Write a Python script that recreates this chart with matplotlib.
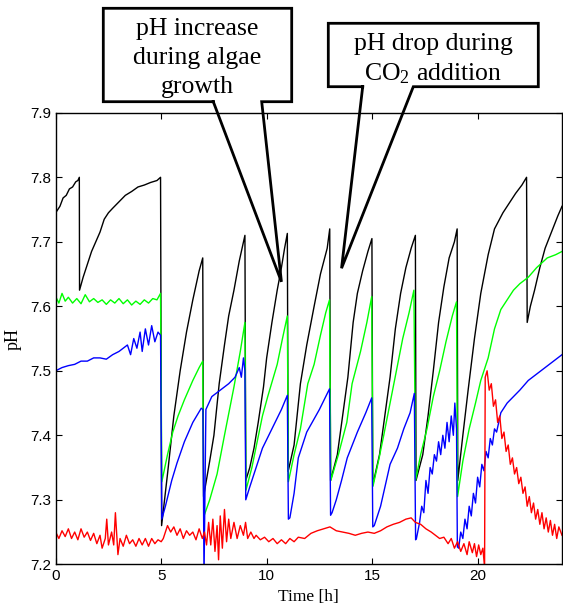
import matplotlib
matplotlib.use("Agg")
import matplotlib.pyplot as plt
from matplotlib.patches import Polygon, Rectangle
from matplotlib.lines import Line2D

plt.rcParams['mathtext.fontset'] = 'custom'
plt.rcParams['mathtext.rm'] = 'Liberation Serif'
plt.rcParams['mathtext.it'] = 'Liberation Serif:italic'

# ---------------- data (time [h], pH) ----------------
black_t = [0, 0.2, 0.35, 0.5, 0.65, 0.8, 0.95, 1.05, 1.12,
           1.13, 1.3, 1.5, 1.7, 1.9, 2.1, 2.3, 2.5, 2.7, 3.0, 3.3, 3.6, 3.9, 4.2, 4.5, 4.8, 4.97,
           5.02, 5.3, 5.6, 5.9, 6.2, 6.5, 6.8, 6.97,
           7.01, 7.3, 7.5, 7.75, 8.0, 8.2, 8.45, 8.7, 8.97,
           9.01, 9.2, 9.4, 9.6, 9.85, 10.0, 10.25, 10.5, 10.7, 10.85, 10.98,
           11.02, 11.3, 11.6, 11.9, 12.25, 12.55, 12.87, 12.99,
           13.03, 13.35, 13.6, 13.85, 14.1, 14.3, 14.55, 14.8, 14.99,
           15.03, 15.35, 15.6, 15.85, 16.1, 16.35, 16.6, 16.85, 17.05,
           17.08, 17.4, 17.65, 17.9, 18.15, 18.4, 18.65, 18.9, 19.03,
           19.06, 19.3, 19.55, 19.85, 20.15, 20.5, 20.8, 21.2, 21.5, 21.8, 22.1, 22.32,
           22.35, 22.5, 22.7, 22.95, 23.2, 23.5, 23.8, 24.0]
black_ph = [7.745, 7.755, 7.768, 7.772, 7.782, 7.785, 7.793, 7.795, 7.800,
            7.625, 7.645, 7.665, 7.685, 7.700, 7.715, 7.735, 7.745, 7.752, 7.762, 7.772, 7.778, 7.785, 7.788, 7.792, 7.795, 7.800,
            7.260, 7.340, 7.430, 7.500, 7.560, 7.610, 7.655, 7.675,
            7.305, 7.360, 7.400, 7.480, 7.540, 7.585, 7.625, 7.670, 7.710,
            7.330, 7.350, 7.380, 7.420, 7.475, 7.520, 7.575, 7.625, 7.660, 7.690, 7.713,
            7.344, 7.385, 7.480, 7.540, 7.600, 7.650, 7.690, 7.720,
            7.330, 7.370, 7.430, 7.490, 7.575, 7.620, 7.655, 7.685, 7.705,
            7.323, 7.370, 7.430, 7.490, 7.565, 7.620, 7.660, 7.690, 7.710,
            7.330, 7.370, 7.430, 7.500, 7.575, 7.630, 7.675, 7.700, 7.720,
            7.330, 7.400, 7.470, 7.550, 7.620, 7.680, 7.720, 7.745, 7.760, 7.775, 7.788, 7.800,
            7.575, 7.600, 7.625, 7.660, 7.690, 7.715, 7.740, 7.755]

green_t = [0, 0.15, 0.3, 0.45, 0.6, 0.8, 1.0, 1.2, 1.4, 1.6, 1.8, 2.0, 2.2, 2.4, 2.6, 2.8,
           3.0, 3.2, 3.4, 3.6, 3.8, 4.0, 4.2, 4.4, 4.6, 4.8, 4.97,
           5.03, 5.3, 5.55, 5.8, 6.1, 6.5, 6.8, 6.97,
           7.02, 7.3, 7.65, 8.0, 8.45, 8.75, 8.97,
           9.02, 9.3, 9.55, 9.8, 10.05, 10.5, 10.75, 10.98,
           11.03, 11.3, 11.6, 11.95, 12.25, 12.55, 12.8, 12.98,
           13.04, 13.4, 13.8, 14.05, 14.45, 14.75, 14.98,
           15.04, 15.3, 15.55, 15.85, 16.15, 16.45, 16.75, 16.98,
           17.06, 17.3, 17.6, 17.9, 18.2, 18.5, 18.8, 19.0,
           19.05, 19.3, 19.6, 19.9, 20.15, 20.5, 20.8, 21.1, 21.4, 21.7, 22.0, 22.4, 22.8, 23.3, 23.7, 24.0]
green_ph = [7.615, 7.605, 7.620, 7.608, 7.614, 7.605, 7.612, 7.604, 7.618, 7.607, 7.612, 7.606, 7.610, 7.603, 7.610, 7.605,
            7.612, 7.604, 7.610, 7.602, 7.608, 7.603, 7.610, 7.605, 7.612, 7.610, 7.620,
            7.328, 7.370, 7.405, 7.430, 7.455, 7.485, 7.505, 7.515,
            7.274, 7.300, 7.340, 7.400, 7.475, 7.530, 7.575,
            7.315, 7.350, 7.390, 7.430, 7.460, 7.510, 7.550, 7.585,
            7.328, 7.370, 7.410, 7.480, 7.510, 7.555, 7.590, 7.610,
            7.330, 7.370, 7.420, 7.480, 7.530, 7.575, 7.615,
            7.321, 7.360, 7.400, 7.450, 7.500, 7.550, 7.590, 7.625,
            7.330, 7.370, 7.410, 7.460, 7.500, 7.545, 7.585, 7.607,
            7.305, 7.360, 7.410, 7.450, 7.485, 7.520, 7.565, 7.595, 7.610, 7.625, 7.635, 7.645, 7.660, 7.675, 7.680, 7.685]

blue_t = [0, 0.3, 0.6, 0.9, 1.2, 1.5, 1.8, 2.1, 2.4, 2.7, 3.0, 3.2, 3.4, 3.55, 3.7, 3.85,
          4.0, 4.1, 4.25, 4.4, 4.55, 4.7, 4.85, 4.97,
          5.03, 5.2, 5.5, 5.75, 6.1, 6.5, 6.9, 6.98,
          7.03, 7.12, 7.4, 7.8, 8.2, 8.5, 8.7, 8.8, 8.9, 8.97,
          9.01, 9.2, 9.5, 9.8, 10.1, 10.4, 10.7, 10.98,
          11.03, 11.1, 11.3, 11.5, 11.9, 12.5, 12.98,
          13.03, 13.1, 13.3, 13.55, 13.82, 14.3, 14.7, 14.98,
          15.03, 15.1, 15.4, 15.85, 16.2, 16.5, 16.8, 17.0,
          17.06, 17.1, 17.25, 17.35, 17.45, 17.55, 17.65, 17.75, 17.85, 17.95, 18.05, 18.15,
          18.25, 18.35, 18.45, 18.55, 18.65, 18.75, 18.85, 18.92, 19.0,
          19.04, 19.1, 19.2, 19.3, 19.4, 19.5, 19.6, 19.7, 19.8, 19.9, 20.0, 20.1, 20.2, 20.3,
          20.4, 20.5, 20.6, 20.7, 20.8, 20.9, 21.1, 21.4, 21.7, 22.0, 22.4, 22.8, 23.2, 23.6, 24.0]
blue_ph = [7.500, 7.505, 7.508, 7.510, 7.515, 7.515, 7.520, 7.520, 7.518, 7.525, 7.530, 7.535, 7.540, 7.525, 7.550, 7.535,
           7.560, 7.530, 7.565, 7.540, 7.570, 7.545, 7.560, 7.555,
           7.270, 7.290, 7.330, 7.357, 7.390, 7.420, 7.442, 7.440,
           7.180, 7.440, 7.460, 7.470, 7.480, 7.490, 7.505, 7.490, 7.520, 7.500,
           7.300, 7.320, 7.350, 7.380, 7.400, 7.420, 7.440, 7.462,
           7.270, 7.272, 7.310, 7.365, 7.405, 7.440, 7.472,
           7.276, 7.280, 7.300, 7.330, 7.365, 7.405, 7.435, 7.458,
           7.258, 7.260, 7.290, 7.355, 7.380, 7.410, 7.435, 7.465,
           7.238, 7.240, 7.265, 7.290, 7.280, 7.330, 7.310, 7.350, 7.340, 7.370, 7.360, 7.390,
           7.370, 7.400, 7.380, 7.420, 7.390, 7.430, 7.400, 7.450, 7.410,
           7.227, 7.225, 7.250, 7.240, 7.270, 7.255, 7.290, 7.275, 7.310, 7.295, 7.335, 7.320, 7.355, 7.345,
           7.375, 7.365, 7.395, 7.385, 7.410, 7.405, 7.435, 7.450, 7.460, 7.470, 7.485, 7.495, 7.505, 7.515, 7.525]

red_t = [0, 0.15, 0.3, 0.45, 0.6, 0.75, 0.9, 1.05, 1.2, 1.35, 1.5, 1.65, 1.8, 1.95, 2.1, 2.2,
         2.35, 2.42, 2.5, 2.65, 2.75, 2.83, 2.95, 3.05, 3.2, 3.35, 3.5, 3.65, 3.8, 3.95, 4.1, 4.25,
         4.4, 4.55, 4.7, 4.85, 5.0, 5.1, 5.25,
         5.3, 5.45, 5.6, 5.75, 5.9, 6.05, 6.2, 6.35, 6.5, 6.65, 6.8, 6.95, 7.05, 7.15, 7.25, 7.35,
         7.45, 7.55, 7.65, 7.72, 7.8, 7.9, 8.0, 8.1, 8.2, 8.3, 8.45, 8.6, 8.75, 8.9, 9.0, 9.1, 9.25, 9.4,
         9.5, 9.7, 9.9, 10.1, 10.3, 10.5, 10.7, 10.9, 11.1, 11.3, 11.5, 11.8, 12.1, 12.4, 12.7, 13.0,
         13.3, 13.6, 13.9, 14.2, 14.5, 14.8, 15.1, 15.4, 15.7, 16.0, 16.3, 16.6, 16.85, 17.05, 17.3,
         17.55, 17.8, 18.0, 18.2, 18.4, 18.6, 18.75, 18.9, 19.05, 19.2, 19.35, 19.5, 19.6, 19.75,
         19.85, 19.95, 20.05, 20.15, 20.25, 20.33,
         20.36, 20.45, 20.55, 20.65, 20.75, 20.85, 20.95, 21.05, 21.15, 21.25, 21.35, 21.45, 21.55,
         21.65, 21.75, 21.85, 21.95, 22.05, 22.15, 22.25, 22.35, 22.45, 22.55, 22.65, 22.75, 22.85,
         22.95, 23.05, 23.15, 23.25, 23.35, 23.45, 23.55, 23.65, 23.75, 23.85, 24.0]
red_ph = [7.250, 7.240, 7.252, 7.243, 7.255, 7.240, 7.250, 7.238, 7.255, 7.242, 7.250, 7.237, 7.248, 7.232, 7.245, 7.225,
          7.240, 7.270, 7.230, 7.250, 7.230, 7.280, 7.215, 7.240, 7.228, 7.245, 7.232, 7.238, 7.228, 7.240, 7.230, 7.240,
          7.228, 7.240, 7.232, 7.238, 7.235, 7.240, 7.255,
          7.260, 7.250, 7.258, 7.245, 7.255, 7.240, 7.252, 7.245, 7.250, 7.238, 7.255, 7.240, 7.250, 7.230, 7.265, 7.230,
          7.270, 7.220, 7.260, 7.207, 7.275, 7.225, 7.285, 7.235, 7.270, 7.240, 7.265, 7.240, 7.260, 7.245, 7.265, 7.240, 7.250, 7.240,
          7.245, 7.238, 7.242, 7.235, 7.240, 7.232, 7.238, 7.232, 7.240, 7.235, 7.242, 7.240, 7.248, 7.252, 7.255, 7.258,
          7.252, 7.250, 7.248, 7.245, 7.248, 7.250, 7.248, 7.252, 7.258, 7.262, 7.265, 7.270, 7.272, 7.265, 7.262,
          7.255, 7.250, 7.245, 7.240, 7.242, 7.232, 7.240, 7.225, 7.235, 7.220, 7.232, 7.215, 7.235, 7.218,
          7.232, 7.212, 7.230, 7.215, 7.225, 7.195,
          7.490, 7.500, 7.470, 7.480, 7.445, 7.455, 7.420, 7.430, 7.395, 7.405, 7.375, 7.385, 7.355,
          7.365, 7.340, 7.350, 7.325, 7.335, 7.310, 7.320, 7.290, 7.305, 7.280, 7.295, 7.270, 7.285,
          7.262, 7.280, 7.255, 7.272, 7.250, 7.268, 7.245, 7.262, 7.240, 7.258, 7.245]

xticks = [0, 5, 10, 15, 20]
yticks = [7.2, 7.3, 7.4, 7.5, 7.6, 7.7, 7.8, 7.9]

# ---------------- figure ----------------
W, H = 563, 614
fig = plt.figure(figsize=(W / 100, H / 100), dpi=100)
ax = fig.add_axes([55.7 / W, 1 - 564.3 / H, (562 - 55.7) / W, (564.3 - 112.8) / H])

ax.plot(black_t, black_ph, color='black', lw=1.0)
ax.plot(green_t, green_ph, color='#00ff00', lw=1.0)
ax.plot(blue_t, blue_ph, color='#0000ff', lw=1.0)
ax.plot(red_t, red_ph, color='#ff0000', lw=1.0)

ax.set_xlim(0, 24)
ax.set_ylim(7.2, 7.9)
ax.set_xticks(xticks)
ax.set_yticks(yticks)
ax.set_xticklabels([str(v) for v in xticks])
ax.set_yticklabels([f"{v:.1f}" for v in yticks])
ax.tick_params(direction='in', top=True, right=True, length=4, width=0.8,
               labelsize=11)
for lab in ax.get_xticklabels() + ax.get_yticklabels():
    lab.set_family('Liberation Sans')
for s in ax.spines.values():
    s.set_linewidth(1.0)

ax.set_xlabel('Time [h]', family='Liberation Serif', fontsize=12.5, labelpad=4)
ax.set_ylabel('pH', family='Liberation Serif', fontsize=13, labelpad=6)

# ---------------- callouts ----------------
def px(x, y):
    return (x / W, 1 - y / H)

def data_to_fig(x, y):
    d = ax.transData.transform((x, y))
    return fig.transFigure.inverted().transform(d)

def callout(left, top, right, bottom, b1, b2, tip_data):
    tip = data_to_fig(*tip_data)
    rect = Rectangle(px(left, bottom), (right - left) / W, (bottom - top) / H,
                     transform=fig.transFigure, facecolor='white', edgecolor='none',
                     zorder=5)
    fig.patches.append(rect)
    pts = [px(b1, bottom), px(left, bottom), px(left, top), px(right, top),
           px(right, bottom), px(b2, bottom), tuple(tip), px(b1, bottom)]
    xs = [p[0] for p in pts]
    ys = [p[1] for p in pts]
    fig.lines.append(Line2D(xs, ys, transform=fig.transFigure, color='black',
                            lw=2.0, zorder=6, solid_joinstyle='miter'))

callout(103.3, 8.3, 291.7, 101.7, 213.3, 261.7, (10.70, 7.638))
callout(328.3, 23.3, 538.3, 86.7, 362.7, 413.3, (13.55, 7.659))

tf = dict(family='Liberation Serif', fontsize=18.5, ha='center', va='baseline', zorder=7)
fig.text(*px(197.5, 35), 'pH increase', **tf)
fig.text(*px(197.5, 64), 'during algae', **tf)
fig.text(*px(197.5, 93), 'growth', **tf)
fig.text(*px(433.3, 50), 'pH drop during', **tf)
fig.text(*px(433.3, 80), r'CO$_2$ addition', **tf)

fig.savefig('out.png', dpi=100)
